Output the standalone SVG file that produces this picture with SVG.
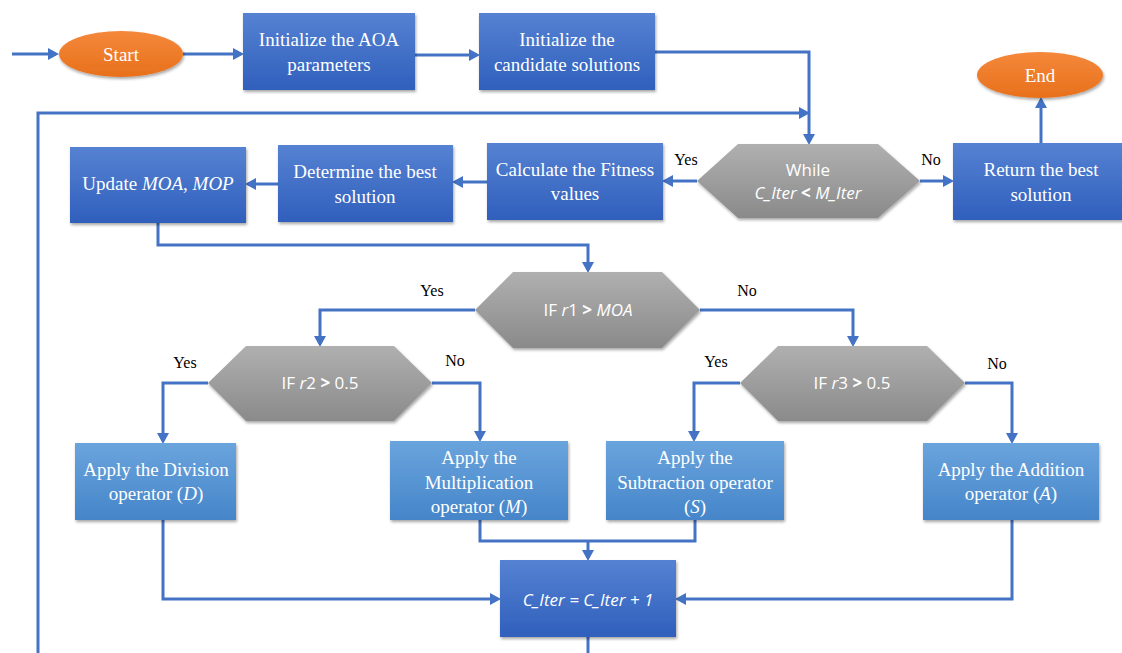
<svg xmlns="http://www.w3.org/2000/svg" width="1122" height="653" viewBox="0 0 1122 653">
<defs>
<linearGradient id="gDark" x1="0" y1="0" x2="0" y2="1"><stop offset="0" stop-color="#5682d2"/><stop offset="1" stop-color="#2f5fbc"/></linearGradient>
<linearGradient id="gLight" x1="0" y1="0" x2="0" y2="1"><stop offset="0" stop-color="#6aa4dd"/><stop offset="1" stop-color="#4585c9"/></linearGradient>
<linearGradient id="gGray" x1="0" y1="0" x2="0" y2="1"><stop offset="0" stop-color="#b0b0b0"/><stop offset="1" stop-color="#8a8a8a"/></linearGradient>
<linearGradient id="gOrange" x1="0" y1="0" x2="0" y2="1"><stop offset="0" stop-color="#f4883a"/><stop offset="1" stop-color="#e8701c"/></linearGradient>
<filter id="sh" x="-10%" y="-10%" width="125%" height="130%"><feDropShadow dx="1" dy="2" stdDeviation="1.5" flood-color="#000" flood-opacity="0.35"/></filter>
<marker id="arr" markerWidth="12" markerHeight="12" refX="8" refY="6" orient="auto" markerUnits="userSpaceOnUse"><path d="M0,0 L11,6 L0,12 z" fill="#4472c4"/></marker>
</defs>
<style>
.dark{fill:url(#gDark);filter:url(#sh)}
.light{fill:url(#gLight);filter:url(#sh)}
.hex{fill:url(#gGray);filter:url(#sh)}
.ell{fill:url(#gOrange);filter:url(#sh)}
.t{font-family:"Liberation Serif","Times New Roman",serif;font-size:19px;fill:#fff;text-anchor:middle}
.h{font-family:"Open Sans","Liberation Sans",sans-serif;font-size:17px;fill:#fff;text-anchor:middle}
.lbl{font-family:"Liberation Serif","Times New Roman",serif;font-size:16px;fill:#000;text-anchor:middle}
.c{fill:none;stroke:#4472c4;stroke-width:3}
.a{marker-end:url(#arr)}
</style>
<rect width="1122" height="653" fill="#fff"/>

<g id="connectors">
<path class="c a" d="M12,54 H56"/>
<path class="c a" d="M183,54 H241"/>
<path class="c a" d="M415,55 H477"/>
<path class="c a" d="M655,52 H809 V142"/>
<path class="c" d="M38,653 V113 H805"/>
<path class="c a" d="M805,113 H807"/>
<path class="c a" d="M697,181 H665"/>
<path class="c a" d="M920,181 H951"/>
<path class="c a" d="M1041,143 V100"/>
<path class="c a" d="M487,182 H455"/>
<path class="c a" d="M278,184 H248"/>
<path class="c a" d="M158,223 V245 H588 V270"/>
<path class="c a" d="M475,310 H320 V344"/>
<path class="c a" d="M700,310 H853 V344"/>
<path class="c a" d="M208,383 H163 V441"/>
<path class="c a" d="M432,383 H480 V439"/>
<path class="c a" d="M740,383 H694 V439"/>
<path class="c a" d="M965,383 H1012 V441"/>
<path class="c" d="M480,520 V541 H695 V520"/>
<path class="c a" d="M588,541 V558"/>
<path class="c a" d="M163,520 V599 H498"/>
<path class="c a" d="M1012,520 V599 H678"/>
<path class="c" d="M588,637 V653"/>
</g>

<g id="start"><ellipse class="ell" cx="121" cy="54" rx="62" ry="23"/><text class="t" x="121" y="61" font-size="20">Start</text></g>
<g id="init-params"><rect class="dark" x="243" y="13" width="172" height="77"/><text class="t" x="329" y="46">Initialize the AOA</text><text class="t" x="329" y="71">parameters</text></g>
<g id="init-cand"><rect class="dark" x="479" y="13" width="176" height="77"/><text class="t" x="567" y="46">Initialize the</text><text class="t" x="567" y="71">candidate solutions</text></g>
<g id="end"><ellipse class="ell" cx="1040" cy="75" rx="63" ry="23"/><text class="t" x="1040" y="82" font-size="20">End</text></g>
<g id="while"><polygon class="hex" points="697,181 738,144 878,144 920,181 878,218 738,218"/><text class="h" x="808" y="176">While</text><text class="h" x="808" y="199"><tspan font-style="italic">C_Iter</tspan> <tspan font-weight="bold">&lt;</tspan> <tspan font-style="italic">M_Iter</tspan></text></g>
<g id="return"><rect class="dark" x="953" y="143" width="175" height="77"/><text class="t" x="1041" y="176">Return the best</text><text class="t" x="1041" y="201">solution</text></g>
<g id="fitness"><rect class="dark" x="487" y="143" width="176" height="77"/><text class="t" x="575" y="176">Calculate the Fitness</text><text class="t" x="575" y="200">values</text></g>
<g id="best"><rect class="dark" x="278" y="145" width="175" height="77"/><text class="t" x="365" y="178">Determine the best</text><text class="t" x="365" y="203">solution</text></g>
<g id="update"><rect class="dark" x="70" y="147" width="176" height="76"/><text class="t" x="158" y="190">Update <tspan font-style="italic">MOA</tspan>, <tspan font-style="italic">MOP</tspan></text></g>
<g id="if-r1"><polygon class="hex" points="475,310 513,272 662,272 700,310 662,348 513,348"/><text class="h" x="588" y="316">IF <tspan font-style="italic">r</tspan>1 <tspan font-weight="bold">&gt;</tspan> <tspan font-style="italic">MOA</tspan></text></g>
<g id="if-r2"><polygon class="hex" points="208,383 246,346 394,346 432,383 394,421 246,421"/><text class="h" x="320" y="389">IF <tspan font-style="italic">r</tspan>2 <tspan font-weight="bold">&gt;</tspan> 0.5</text></g>
<g id="if-r3"><polygon class="hex" points="740,383 778,346 927,346 965,383 927,421 778,421"/><text class="h" x="852" y="389">IF <tspan font-style="italic">r</tspan>3 <tspan font-weight="bold">&gt;</tspan> 0.5</text></g>
<g id="division"><rect class="light" x="75" y="443" width="161" height="77"/><text class="t" x="156" y="476">Apply the Division</text><text class="t" x="156" y="500">operator (<tspan font-style="italic">D</tspan>)</text></g>
<g id="multiplication"><rect class="light" x="390" y="441" width="178" height="79"/><text class="t" x="479" y="464">Apply the</text><text class="t" x="479" y="489">Multiplication</text><text class="t" x="479" y="513">operator (<tspan font-style="italic">M</tspan>)</text></g>
<g id="subtraction"><rect class="light" x="606" y="441" width="178" height="79"/><text class="t" x="695" y="464">Apply the</text><text class="t" x="695" y="489">Subtraction operator</text><text class="t" x="695" y="513">(<tspan font-style="italic">S</tspan>)</text></g>
<g id="addition"><rect class="light" x="923" y="443" width="176" height="77"/><text class="t" x="1011" y="476">Apply the Addition</text><text class="t" x="1011" y="500">operator (<tspan font-style="italic">A</tspan>)</text></g>
<g id="counter"><rect class="dark" x="500" y="560" width="176" height="77"/><text class="h" x="588" y="606" font-size="17" font-style="italic">C_Iter = C_Iter + 1</text></g>

<g id="labels">
<text class="lbl" x="686" y="165">Yes</text>
<text class="lbl" x="931" y="165">No</text>
<text class="lbl" x="432" y="296">Yes</text>
<text class="lbl" x="747" y="296">No</text>
<text class="lbl" x="185" y="368">Yes</text>
<text class="lbl" x="455" y="366">No</text>
<text class="lbl" x="716" y="367">Yes</text>
<text class="lbl" x="997" y="369">No</text>
</g>
</svg>
